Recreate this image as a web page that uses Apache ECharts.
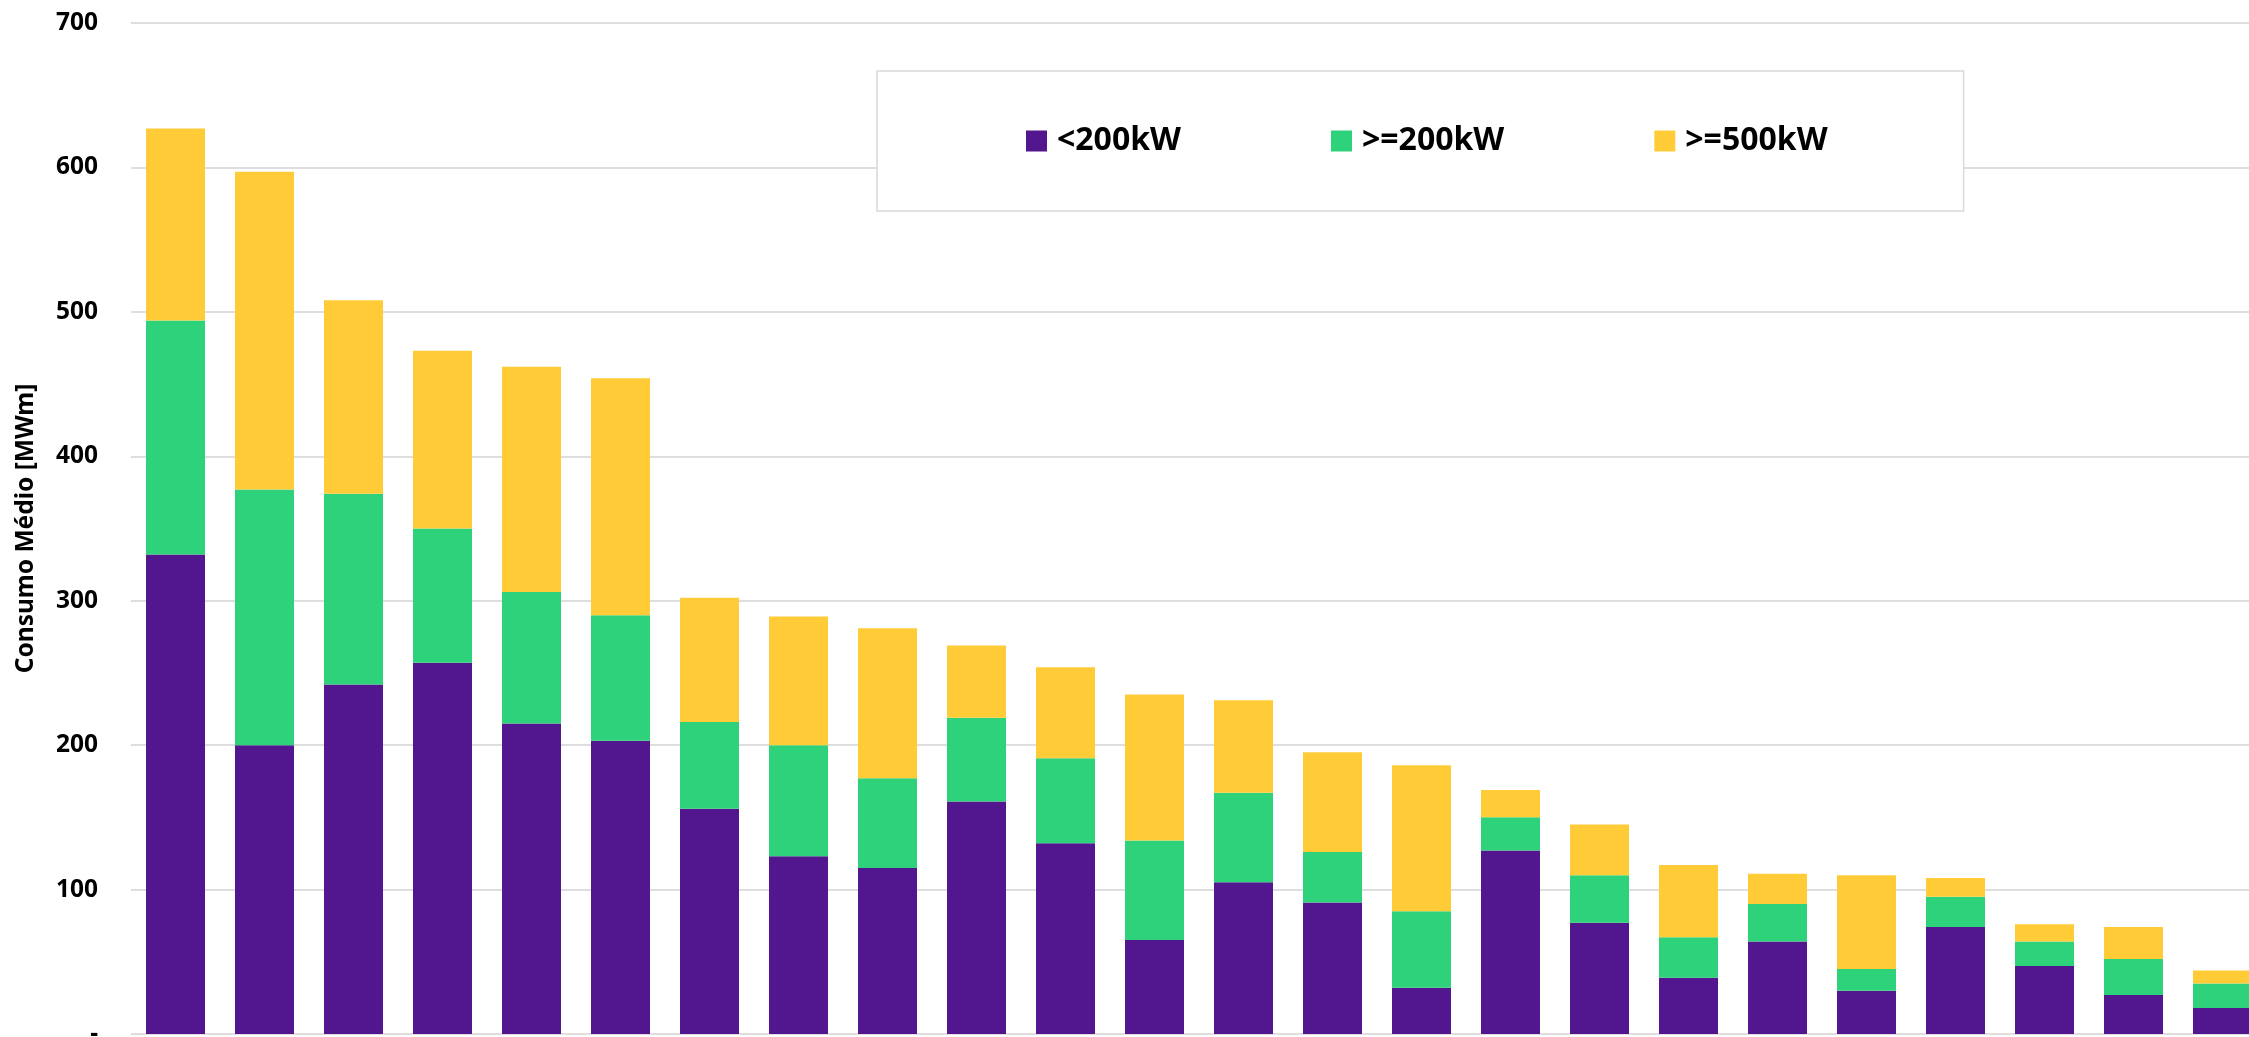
<!DOCTYPE html>
<html>
<head>
<meta charset="utf-8">
<script src="https://cdn.jsdelivr.net/npm/echarts@6/dist/echarts.min.js"></script>
<style>
  html, body { margin: 0; padding: 0; background: #ffffff; }
  #chart { width: 2249px; height: 1037px; }
</style>
</head>
<body>
<div id="chart"></div>
<script>
// Categories (x-axis labels are cut off below the visible area in the reference)
const categories = ['1','2','3','4','5','6','7','8','9','10','11','12','13','14','15','16','17','18','19','20','21','22','23','24'];

const seriesNames = ['<200kW', '>=200kW', '>=500kW'];

// Values in MWm
const below200kW = [332, 200, 242, 257, 215, 203, 156, 123, 115, 161, 132, 65, 105, 91, 32, 127, 77, 39, 64, 30, 74, 47, 27, 18];
const from200kW  = [162, 177, 132, 93, 91, 87, 60, 77, 62, 58, 59, 69, 62, 35, 53, 23, 33, 28, 26, 15, 21, 17, 25, 17];
const from500kW  = [133, 220, 134, 123, 156, 164, 86, 89, 104, 50, 63, 101, 64, 69, 101, 19, 35, 50, 21, 65, 13, 12, 22, 9];

const yTickValues = [0, 100, 200, 300, 400, 500, 600, 700];
const yTickLabels = ['-', '100', '200', '300', '400', '500', '600', '700'];

const colors = ['#52168f', '#2ed27a', '#ffcc38'];
const FONT = '"Noto Sans", "Liberation Sans", sans-serif';

const chart = echarts.init(document.getElementById('chart'), null, { renderer: 'canvas' });

const seriesData = [below200kW, from200kW, from500kW];

chart.setOption({
  animation: false,
  backgroundColor: '#ffffff',
  color: colors,
  grid: { left: 131, right: -18, top: 23, bottom: 3, containLabel: false, outerBoundsMode: 'none' },
  legend: {
    data: seriesNames,
    left: 877,
    top: 71,
    orient: 'horizontal',
    icon: 'rect',
    itemWidth: 21,
    itemHeight: 21,
    itemGap: 150,
    padding: [54, 136, 54, 149],
    borderColor: '#d9d9d9',
    borderWidth: 1.5,
    backgroundColor: '#ffffff',
    textStyle: { fontFamily: FONT, fontWeight: 'bold', fontSize: 32, color: '#000000', padding: [0, 0, 0, 5] }
  },
  xAxis: {
    type: 'category',
    data: categories,
    axisLine: { show: false },
    axisTick: { show: false },
    axisLabel: { show: false }
  },
  yAxis: {
    type: 'value',
    min: yTickValues[0],
    max: yTickValues[yTickValues.length - 1],
    interval: 100,
    name: 'Consumo Médio [MWm]',
    nameLocation: 'middle',
    nameGap: 92,
    nameTextStyle: { fontFamily: FONT, fontWeight: 'bold', fontSize: 24.5, color: '#000000' },
    axisLine: { show: false },
    axisTick: { show: false },
    axisLabel: {
      margin: 33,
      fontFamily: FONT,
      fontWeight: 'bold',
      fontSize: 24.5,
      color: '#000000',
      formatter: function (v) {
        const i = yTickValues.indexOf(v);
        return i >= 0 ? yTickLabels[i] : String(v);
      }
    },
    splitLine: { show: true, lineStyle: { color: '#dedede', width: 2 } }
  },
  series: seriesNames.map(function (name, i) {
    return {
      name: name,
      type: 'bar',
      stack: 'total',
      barWidth: 59,
      data: seriesData[i],
      itemStyle: { color: colors[i] }
    };
  })
});
</script>
</body>
</html>
